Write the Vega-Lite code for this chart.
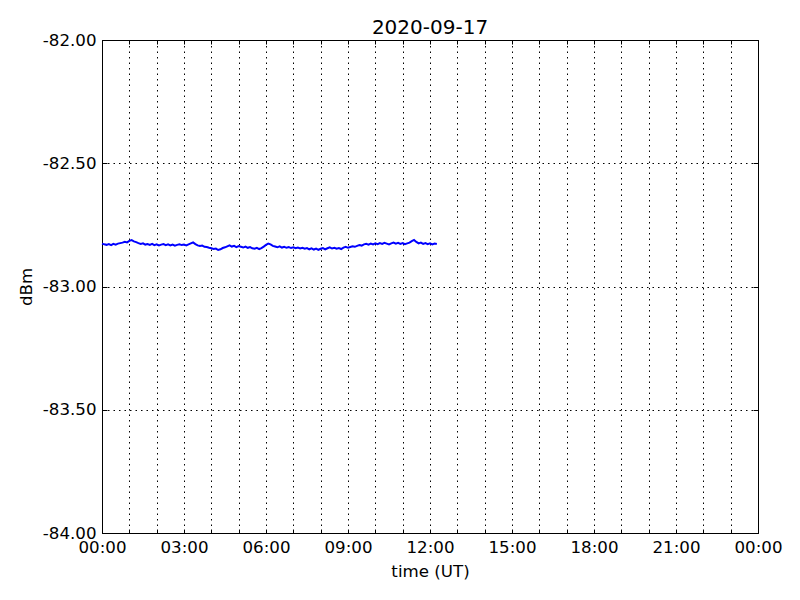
{
  "$schema": "https://vega.github.io/schema/vega-lite/v6.json",
  "width": 656,
  "height": 493,
  "autosize": {"type": "none"},
  "padding": {"left": 102, "top": 40, "right": 42, "bottom": 67},
  "background": "white",
  "config": {
    "font": "DejaVu Sans",
    "view": {"stroke": "black", "strokeWidth": 1},
    "axis": {
      "labelFont": "DejaVu Sans",
      "titleFont": "DejaVu Sans",
      "labelFontSize": 16.67,
      "titleFontSize": 16.67,
      "titleFontWeight": "normal",
      "labelColor": "black",
      "titleColor": "black",
      "domain": false,
      "tickColor": "black",
      "gridColor": "black",
      "gridOpacity": 1,
      "gridDash": [1.5, 4],
      "gridWidth": 1
    }
  },
  "title": {
    "text": "2020-09-17",
    "font": "DejaVu Sans",
    "fontSize": 20,
    "fontWeight": "normal",
    "color": "black",
    "offset": 6,
    "dy": 12
  },
  "data": {
    "values": [
      {"t": "2020-09-17T00:00", "v": -82.826},
      {"t": "2020-09-17T00:05", "v": -82.829},
      {"t": "2020-09-17T00:10", "v": -82.831},
      {"t": "2020-09-17T00:15", "v": -82.828},
      {"t": "2020-09-17T00:20", "v": -82.832},
      {"t": "2020-09-17T00:25", "v": -82.827},
      {"t": "2020-09-17T00:30", "v": -82.830},
      {"t": "2020-09-17T00:35", "v": -82.826},
      {"t": "2020-09-17T00:40", "v": -82.824},
      {"t": "2020-09-17T00:45", "v": -82.822},
      {"t": "2020-09-17T00:50", "v": -82.819},
      {"t": "2020-09-17T00:55", "v": -82.821},
      {"t": "2020-09-17T01:00", "v": -82.815},
      {"t": "2020-09-17T01:05", "v": -82.812},
      {"t": "2020-09-17T01:10", "v": -82.817},
      {"t": "2020-09-17T01:15", "v": -82.820},
      {"t": "2020-09-17T01:20", "v": -82.824},
      {"t": "2020-09-17T01:25", "v": -82.827},
      {"t": "2020-09-17T01:30", "v": -82.825},
      {"t": "2020-09-17T01:35", "v": -82.830},
      {"t": "2020-09-17T01:40", "v": -82.828},
      {"t": "2020-09-17T01:45", "v": -82.831},
      {"t": "2020-09-17T01:50", "v": -82.827},
      {"t": "2020-09-17T01:55", "v": -82.832},
      {"t": "2020-09-17T02:00", "v": -82.829},
      {"t": "2020-09-17T02:05", "v": -82.833},
      {"t": "2020-09-17T02:10", "v": -82.830},
      {"t": "2020-09-17T02:15", "v": -82.828},
      {"t": "2020-09-17T02:20", "v": -82.832},
      {"t": "2020-09-17T02:25", "v": -82.829},
      {"t": "2020-09-17T02:30", "v": -82.833},
      {"t": "2020-09-17T02:35", "v": -82.830},
      {"t": "2020-09-17T02:40", "v": -82.834},
      {"t": "2020-09-17T02:45", "v": -82.831},
      {"t": "2020-09-17T02:50", "v": -82.829},
      {"t": "2020-09-17T02:55", "v": -82.832},
      {"t": "2020-09-17T03:00", "v": -82.830},
      {"t": "2020-09-17T03:05", "v": -82.833},
      {"t": "2020-09-17T03:10", "v": -82.829},
      {"t": "2020-09-17T03:15", "v": -82.825},
      {"t": "2020-09-17T03:20", "v": -82.821},
      {"t": "2020-09-17T03:25", "v": -82.828},
      {"t": "2020-09-17T03:30", "v": -82.833},
      {"t": "2020-09-17T03:35", "v": -82.836},
      {"t": "2020-09-17T03:40", "v": -82.834},
      {"t": "2020-09-17T03:45", "v": -82.839},
      {"t": "2020-09-17T03:50", "v": -82.840},
      {"t": "2020-09-17T03:55", "v": -82.843},
      {"t": "2020-09-17T04:00", "v": -82.845},
      {"t": "2020-09-17T04:05", "v": -82.848},
      {"t": "2020-09-17T04:10", "v": -82.846},
      {"t": "2020-09-17T04:15", "v": -82.852},
      {"t": "2020-09-17T04:20", "v": -82.849},
      {"t": "2020-09-17T04:25", "v": -82.844},
      {"t": "2020-09-17T04:30", "v": -82.841},
      {"t": "2020-09-17T04:35", "v": -82.837},
      {"t": "2020-09-17T04:40", "v": -82.833},
      {"t": "2020-09-17T04:45", "v": -82.838},
      {"t": "2020-09-17T04:50", "v": -82.835},
      {"t": "2020-09-17T04:55", "v": -82.840},
      {"t": "2020-09-17T05:00", "v": -82.836},
      {"t": "2020-09-17T05:05", "v": -82.839},
      {"t": "2020-09-17T05:10", "v": -82.842},
      {"t": "2020-09-17T05:15", "v": -82.838},
      {"t": "2020-09-17T05:20", "v": -82.843},
      {"t": "2020-09-17T05:25", "v": -82.840},
      {"t": "2020-09-17T05:30", "v": -82.845},
      {"t": "2020-09-17T05:35", "v": -82.847},
      {"t": "2020-09-17T05:40", "v": -82.843},
      {"t": "2020-09-17T05:45", "v": -82.848},
      {"t": "2020-09-17T05:50", "v": -82.844},
      {"t": "2020-09-17T05:55", "v": -82.838},
      {"t": "2020-09-17T06:00", "v": -82.831},
      {"t": "2020-09-17T06:05", "v": -82.826},
      {"t": "2020-09-17T06:10", "v": -82.829},
      {"t": "2020-09-17T06:15", "v": -82.835},
      {"t": "2020-09-17T06:20", "v": -82.838},
      {"t": "2020-09-17T06:25", "v": -82.841},
      {"t": "2020-09-17T06:30", "v": -82.837},
      {"t": "2020-09-17T06:35", "v": -82.842},
      {"t": "2020-09-17T06:40", "v": -82.839},
      {"t": "2020-09-17T06:45", "v": -82.843},
      {"t": "2020-09-17T06:50", "v": -82.840},
      {"t": "2020-09-17T06:55", "v": -82.844},
      {"t": "2020-09-17T07:00", "v": -82.841},
      {"t": "2020-09-17T07:05", "v": -82.845},
      {"t": "2020-09-17T07:10", "v": -82.842},
      {"t": "2020-09-17T07:15", "v": -82.846},
      {"t": "2020-09-17T07:20", "v": -82.843},
      {"t": "2020-09-17T07:25", "v": -82.847},
      {"t": "2020-09-17T07:30", "v": -82.844},
      {"t": "2020-09-17T07:35", "v": -82.849},
      {"t": "2020-09-17T07:40", "v": -82.845},
      {"t": "2020-09-17T07:45", "v": -82.850},
      {"t": "2020-09-17T07:50", "v": -82.846},
      {"t": "2020-09-17T07:55", "v": -82.851},
      {"t": "2020-09-17T08:00", "v": -82.847},
      {"t": "2020-09-17T08:05", "v": -82.844},
      {"t": "2020-09-17T08:10", "v": -82.849},
      {"t": "2020-09-17T08:15", "v": -82.845},
      {"t": "2020-09-17T08:20", "v": -82.841},
      {"t": "2020-09-17T08:25", "v": -82.846},
      {"t": "2020-09-17T08:30", "v": -82.843},
      {"t": "2020-09-17T08:35", "v": -82.847},
      {"t": "2020-09-17T08:40", "v": -82.844},
      {"t": "2020-09-17T08:45", "v": -82.848},
      {"t": "2020-09-17T08:50", "v": -82.842},
      {"t": "2020-09-17T08:55", "v": -82.839},
      {"t": "2020-09-17T09:00", "v": -82.843},
      {"t": "2020-09-17T09:05", "v": -82.840},
      {"t": "2020-09-17T09:10", "v": -82.837},
      {"t": "2020-09-17T09:15", "v": -82.839},
      {"t": "2020-09-17T09:20", "v": -82.835},
      {"t": "2020-09-17T09:25", "v": -82.832},
      {"t": "2020-09-17T09:30", "v": -82.834},
      {"t": "2020-09-17T09:35", "v": -82.829},
      {"t": "2020-09-17T09:40", "v": -82.827},
      {"t": "2020-09-17T09:45", "v": -82.830},
      {"t": "2020-09-17T09:50", "v": -82.826},
      {"t": "2020-09-17T09:55", "v": -82.829},
      {"t": "2020-09-17T10:00", "v": -82.825},
      {"t": "2020-09-17T10:05", "v": -82.828},
      {"t": "2020-09-17T10:10", "v": -82.824},
      {"t": "2020-09-17T10:15", "v": -82.827},
      {"t": "2020-09-17T10:20", "v": -82.823},
      {"t": "2020-09-17T10:25", "v": -82.826},
      {"t": "2020-09-17T10:30", "v": -82.829},
      {"t": "2020-09-17T10:35", "v": -82.825},
      {"t": "2020-09-17T10:40", "v": -82.822},
      {"t": "2020-09-17T10:45", "v": -82.826},
      {"t": "2020-09-17T10:50", "v": -82.823},
      {"t": "2020-09-17T10:55", "v": -82.827},
      {"t": "2020-09-17T11:00", "v": -82.824},
      {"t": "2020-09-17T11:05", "v": -82.828},
      {"t": "2020-09-17T11:10", "v": -82.825},
      {"t": "2020-09-17T11:15", "v": -82.822},
      {"t": "2020-09-17T11:20", "v": -82.816},
      {"t": "2020-09-17T11:25", "v": -82.811},
      {"t": "2020-09-17T11:30", "v": -82.819},
      {"t": "2020-09-17T11:35", "v": -82.825},
      {"t": "2020-09-17T11:40", "v": -82.822},
      {"t": "2020-09-17T11:45", "v": -82.827},
      {"t": "2020-09-17T11:50", "v": -82.824},
      {"t": "2020-09-17T11:55", "v": -82.828},
      {"t": "2020-09-17T12:00", "v": -82.825},
      {"t": "2020-09-17T12:05", "v": -82.829},
      {"t": "2020-09-17T12:10", "v": -82.826},
      {"t": "2020-09-17T12:15", "v": -82.828}
    ]
  },
  "layer": [
    {
      "mark": {"type": "line", "color": "#0000ff", "strokeWidth": 2},
      "encoding": {
        "x": {
          "field": "t",
          "type": "temporal",
          "scale": {"domain": ["2020-09-17T00:00", "2020-09-18T00:00"]},
          "axis": {
            "orient": "bottom",
            "title": "time (UT)",
            "titlePadding": 8,
            "tickCount": 24,
            "labelExpr": "hours(datum.value) % 3 == 0 ? timeFormat(datum.value, '%H:%M') : ''",
            "labelOverlap": false,
            "labelFlush": false,
            "tickSize": -4,
            "labelPadding": 10,
            "grid": true
          }
        },
        "y": {
          "field": "v",
          "type": "quantitative",
          "scale": {"domain": [-84, -82], "nice": false, "zero": false},
          "axis": {
            "orient": "left",
            "title": "dBm",
            "titlePadding": 7,
            "values": [-84, -83.5, -83, -82.5, -82],
            "labelExpr": "replace(format(datum.value, '.2f'), '\u2212', '-')",
            "tickSize": -5,
            "labelPadding": 11,
            "grid": true
          }
        }
      }
    },
    {
      "mark": {"type": "line", "opacity": 0},
      "encoding": {
        "x": {
          "field": "t",
          "type": "temporal",
          "axis": {
            "orient": "top",
            "title": null,
            "labels": false,
            "grid": false,
            "tickCount": 24,
            "tickSize": -4
          }
        },
        "y": {
          "field": "v",
          "type": "quantitative",
          "axis": {
            "orient": "right",
            "title": null,
            "labels": false,
            "grid": false,
            "values": [-84, -83.5, -83, -82.5, -82],
            "tickSize": -5
          }
        }
      }
    }
  ],
  "resolve": {"axis": {"x": "independent", "y": "independent"}}
}
